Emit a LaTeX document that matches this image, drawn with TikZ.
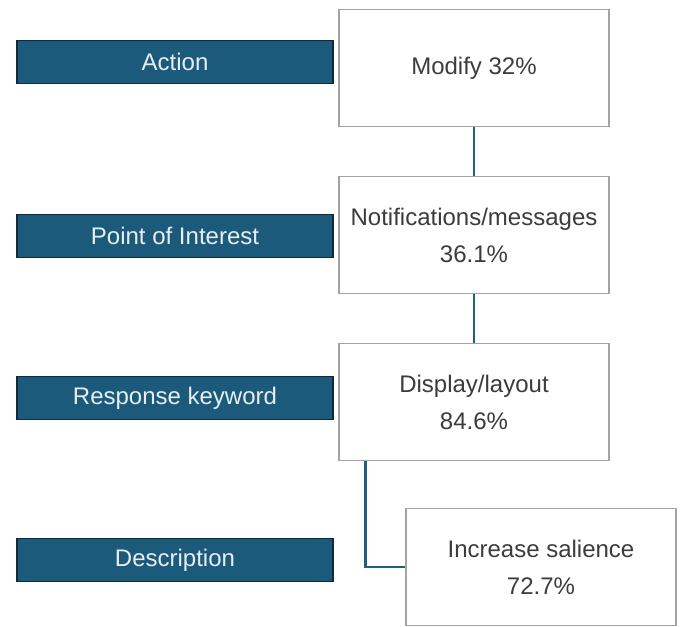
\documentclass[tikz,border=0pt]{standalone}
\usepackage{fontspec}
\setmainfont{Liberation Sans}
\usetikzlibrary{calc}
\definecolor{labfill}{HTML}{1B5A7B}
\definecolor{labdraw}{HTML}{0E2C3C}
\definecolor{labtext}{HTML}{E6EEF2}
\definecolor{boxdraw}{HTML}{A3A3A3}
\definecolor{boxtext}{HTML}{3C3C3C}
\definecolor{conn}{HTML}{1F5F82}
\tikzset{
  labelbox/.style={rectangle, fill=labfill, draw=labdraw, line width=1.5pt,
    minimum width=316pt, minimum height=43pt, inner sep=0pt,
    text=labtext, font=\fontsize{24}{28}\selectfont},
  valbox/.style={rectangle, draw=boxdraw, line width=1.2pt, fill=white,
    minimum width=270pt, minimum height=117pt, inner sep=0pt,
    text=boxtext, align=center, font=\fontsize{24}{37}\selectfont},
  connector/.style={draw=conn, line width=2.5pt}
}
\begin{document}
\begin{tikzpicture}[x=1pt,y=-1pt]
\useasboundingbox (0,0) rectangle (681,627);
\node[labelbox] (action) at (175,62) {Action};
\node[labelbox] (poi) at (175,236) {Point of Interest};
\node[labelbox] (resp) at (175,398) {Response keyword};
\node[labelbox] (desc) at (175,560) {Description};

\node[valbox] (modify) at (474,68) {Modify 32\%};
\node[valbox] (notif) at (474,235) {Notifications/messages\\36.1\%};
\node[valbox] (disp) at (474,402) {Display/layout\\84.6\%};
\node[valbox] (inc) at (541,567) {Increase salience\\72.7\%};

\draw[connector] (modify.south) -- (notif.north);
\draw[connector] (notif.south) -- (disp.north);
\coordinate (elb) at ($(disp.south west)+(27,0)$);
\draw[connector] (elb) |- (inc.west);
\end{tikzpicture}
\end{document}
